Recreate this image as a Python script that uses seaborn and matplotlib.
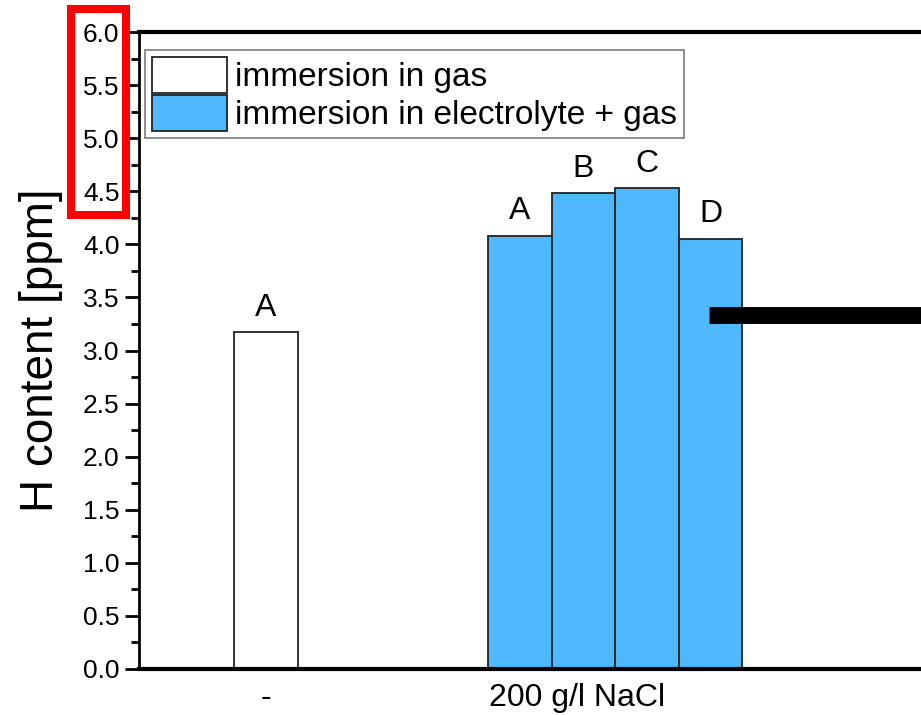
import matplotlib
matplotlib.use("Agg")
import matplotlib.pyplot as plt
from matplotlib.patches import Patch, Rectangle
import seaborn as sns
import pandas as pd

# ---- data ----
positions = [0, 4, 5, 6, 7]
values = [3.17, 4.08, 4.48, 4.53, 4.05]
series = ["immersion in gas", "immersion in electrolyte + gas",
          "immersion in electrolyte + gas", "immersion in electrolyte + gas",
          "immersion in electrolyte + gas"]
letters = ["A", "A", "B", "C", "D"]
series_names = ["immersion in gas", "immersion in electrolyte + gas"]
series_colors = ["#FFFFFF", "#4FB9FF"]
xtick_pos = [0, 4.9]
xtick_labels = ["-", "200 g/l NaCl"]
ref_line_y = 3.33
ref_line_x0 = 6.97

df = pd.DataFrame({"pos": positions, "value": values, "series": series})

sns.set_style("ticks")
plt.rcParams["font.family"] = ["Liberation Sans", "DejaVu Sans"]
plt.rcParams["text.color"] = "black"
plt.rcParams["xtick.color"] = "black"
plt.rcParams["ytick.color"] = "black"
plt.rcParams["axes.labelcolor"] = "black"

fig = plt.figure(figsize=(9.21, 7.15), dpi=100)
# axes extends beyond the right edge of the image
left = 139 / 921
bottom = 1 - 669 / 715
top = 1 - 32 / 715
width = (14 * 63.5) / 921
ax = fig.add_axes([left, bottom, width, top - bottom])

sns.barplot(data=df, x="pos", y="value", hue="series", hue_order=series_names,
            palette=series_colors, saturation=1, native_scale=True, dodge=False,
            width=1.0, edgecolor="#222222", linewidth=1.3, legend=False, ax=ax,
            zorder=2)

for x, v, l in zip(positions, values, letters):
    ax.text(x, v + 0.09, l, ha="center", va="bottom", fontsize=23, color="black")

ax.hlines(ref_line_y, ref_line_x0, 14, colors="black", linewidth=12.2,
          zorder=5, capstyle="butt")

ax.set_xlim(-2, 12)
ax.set_ylim(0, 6.0)
ax.set_yticks([i * 0.5 for i in range(13)])
ax.set_yticklabels([f"{i*0.5:.1f}" for i in range(13)], fontsize=19)
ax.set_yticks([0.25 + i * 0.5 for i in range(12)], minor=True)
ax.set_xticks(xtick_pos)
ax.set_xticklabels(xtick_labels, fontsize=23)
ax.tick_params(axis="x", length=0, pad=10, colors="black")
ax.tick_params(axis="y", which="major", length=10, width=2, direction="out", pad=4,
               colors="black")
ax.tick_params(axis="y", which="minor", length=6, width=2, direction="out",
               colors="black")
ax.set_xlabel("")
ax.set_ylabel("H content [ppm]", fontsize=33, labelpad=14, color="black")

ax.spines["left"].set_linewidth(2)
for s in ["top", "bottom", "right"]:
    ax.spines[s].set_linewidth(3)
for s in ax.spines.values():
    s.set_visible(True)
    s.set_color("black")

handles = [Patch(facecolor=c, edgecolor="#222222", linewidth=1.3) for c in series_colors]
leg = ax.legend(handles, series_names, loc="upper left", bbox_to_anchor=(0.007, 0.972),
                fontsize=24, frameon=True, fancybox=False, handlelength=2.25,
                handleheight=1.3, labelspacing=0.06, handletextpad=0.25,
                borderpad=0.2, borderaxespad=0.0)
leg.get_frame().set_edgecolor("#666666")
leg.get_frame().set_linewidth(1.3)
for t in leg.get_texts():
    t.set_color("black")

fig.patches.append(Rectangle((71 / 921, 1 - 214.5 / 715), (125.5 - 71) / 921,
                             (214.5 - 9) / 715, transform=fig.transFigure,
                             fill=False, edgecolor="#FF0000", linewidth=5.8,
                             zorder=10))

fig.savefig("out.png", dpi=100)
